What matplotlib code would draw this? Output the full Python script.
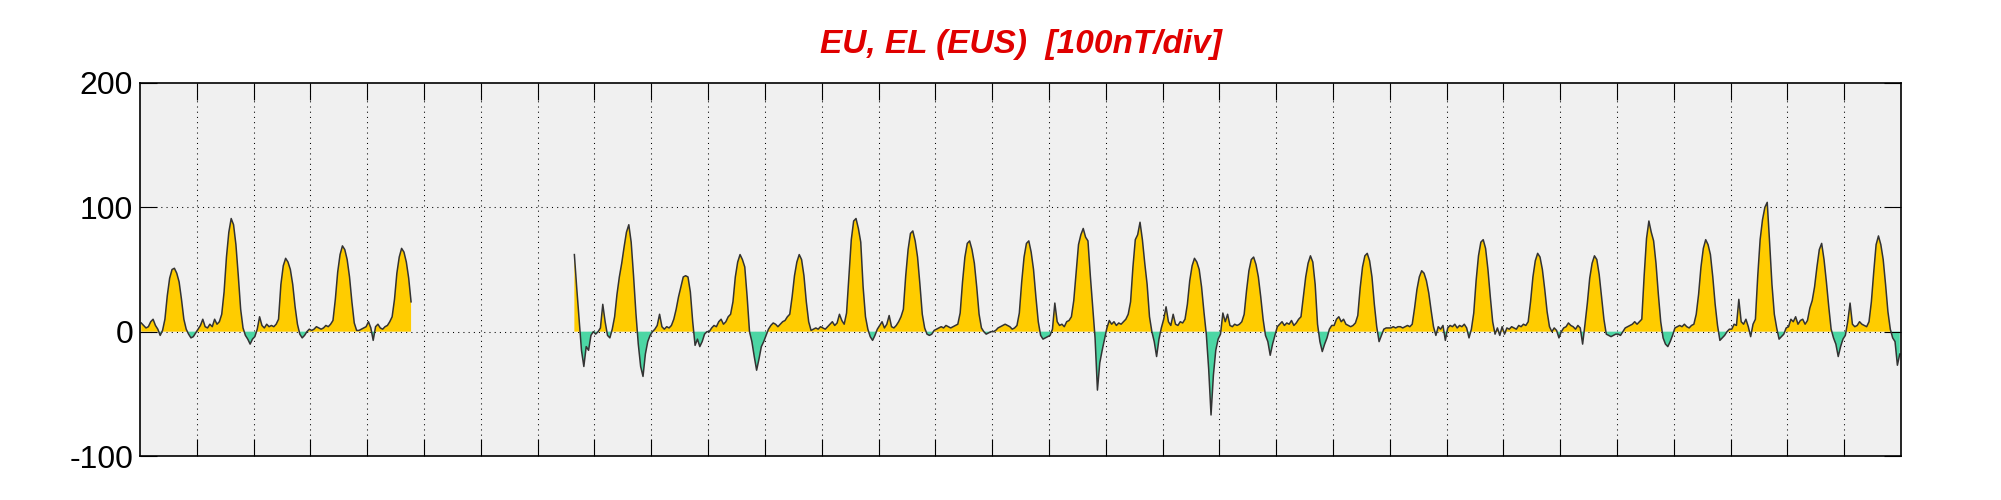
import numpy as np
import matplotlib
matplotlib.use("Agg")
import matplotlib.pyplot as plt

plt.rcParams['font.family'] = ['Liberation Sans', 'DejaVu Sans']
plt.rcParams['axes.unicode_minus'] = False

# EU/EL index, hourly values (nT), one row per day; None = no data
N = None
eu_el = [
    7, 5, 3, 4, 8, 10, 5, 2, -3, 1, 10, 29, 43, 50, 51, 47, 40, 26, 10, 2, -2, -5, -4, -1,
    2, 5, 10, 4, 3, 6, 4, 10, 6, 8, 14, 32, 60, 80, 91, 86, 70, 45, 18, 3, -3, -6, -10, -6,
    -4, 2, 12, 5, 3, 6, 4, 5, 4, 6, 10, 38, 53, 59, 56, 50, 38, 20, 6, -2, -5, -3, 0, 2,
    1, 2, 4, 3, 2, 3, 5, 4, 6, 9, 26, 48, 62, 69, 66, 58, 44, 24, 7, 1, 1, 2, 3, 4,
    8, 3, -7, 4, 6, 3, 2, 4, 5, 8, 12, 26, 47, 60, 67, 64, 56, 43, 24, N, N, N, N, N,
    N, N, N, N, N, N, N, N, N, N, N, N, N, N, N, N, N, N, N, N, N, N, N, N,
    N, N, N, N, N, N, N, N, N, N, N, N, N, N, N, N, N, N, N, N, N, N, N, N,
    N, N, N, N, N, N, N, N, N, N, N, N, N, N, N, 62, 35, 10, -15, -28, -12, -15, -3, 0,
    -2, 0, 3, 22, 8, -3, -5, 2, 12, 30, 44, 55, 68, 80, 86, 72, 45, 15, -10, -28, -36, -18, -8, -3,
    0, 2, 5, 14, 4, 2, 4, 3, 5, 10, 18, 28, 36, 44, 45, 44, 32, 8, -11, -6, -12, -8, -2, 0,
    0, 3, 5, 4, 8, 10, 6, 8, 12, 14, 24, 44, 56, 62, 58, 52, 28, 0, -8, -20, -31, -22, -12, -8,
    -3, 2, 5, 7, 6, 4, 6, 8, 9, 12, 14, 28, 45, 56, 62, 58, 45, 24, 8, 1, 2, 3, 2, 4,
    3, 2, 4, 6, 8, 5, 7, 14, 9, 6, 15, 45, 74, 89, 91, 83, 72, 36, 12, 2, -4, -7, -3, 2,
    5, 8, 3, 6, 13, 4, 3, 5, 8, 12, 18, 45, 66, 79, 81, 73, 60, 38, 14, 3, -2, -3, -2, 1,
    2, 3, 4, 3, 5, 4, 3, 4, 5, 6, 15, 40, 60, 71, 73, 66, 55, 36, 14, 3, 0, -2, -1, 0,
    0, 1, 3, 4, 5, 6, 5, 4, 2, 3, 5, 15, 40, 60, 71, 73, 64, 50, 28, 8, -3, -6, -5, -4,
    -3, 2, 23, 8, 5, 6, 4, 8, 9, 12, 25, 48, 70, 78, 83, 76, 73, 45, 20, -5, -47, -25, -15, -6,
    3, 9, 6, 8, 5, 7, 6, 8, 10, 14, 24, 52, 74, 78, 88, 74, 55, 38, 12, 0, -8, -20, -6, 3,
    10, 20, 8, 5, 14, 6, 5, 8, 7, 10, 22, 41, 53, 59, 56, 50, 36, 16, -2, -30, -67, -35, -15, -6,
    -2, 15, 8, 14, 5, 4, 6, 5, 6, 8, 14, 33, 49, 58, 60, 54, 44, 28, 10, -3, -8, -19, -10, -3,
    4, 6, 8, 5, 7, 6, 9, 5, 7, 10, 12, 28, 44, 55, 61, 56, 38, 6, -8, -16, -10, -5, 2, 5,
    5, 10, 12, 8, 10, 6, 5, 4, 5, 7, 13, 35, 52, 61, 63, 57, 44, 22, 4, -8, -3, 2, 3, 3,
    3, 4, 3, 4, 4, 3, 4, 5, 4, 6, 19, 34, 44, 49, 47, 41, 31, 17, 4, -3, 4, 2, 5, -7,
    3, 5, 4, 6, 3, 5, 4, 6, 3, -5, 2, 15, 41, 61, 72, 74, 67, 50, 28, 8, -2, 3, -3, 4,
    -2, 3, 2, 4, 3, 2, 5, 4, 6, 5, 8, 24, 44, 57, 63, 60, 50, 34, 16, 4, 0, 3, 1, -5,
    0, 3, 4, 7, 5, 4, 2, 5, 3, -10, 6, 23, 43, 55, 61, 58, 46, 28, 10, -2, -3, -4, -3, -2,
    -2, -3, 0, 3, 4, 5, 6, 8, 6, 8, 10, 45, 75, 89, 80, 73, 55, 30, 8, -5, -10, -12, -8, -3,
    3, 4, 5, 4, 6, 4, 3, 5, 6, 14, 30, 52, 67, 74, 70, 62, 44, 22, 5, -7, -5, -3, 0, 2,
    2, 6, 5, 26, 8, 6, 10, 4, -4, 6, 10, 45, 74, 90, 100, 104, 72, 38, 14, 3, -6, -4, -2, 3,
    4, 10, 8, 12, 6, 9, 10, 6, 9, 19, 25, 36, 52, 66, 71, 58, 40, 20, 2, -5, -10, -20, -12, -6,
    -3, 8, 23, 6, 4, 5, 8, 6, 5, 4, 8, 24, 48, 70, 77, 70, 58, 38, 16, 2, -5, -8, -27, -18,
]
n_days = 31
y_ticks = [-100, 0, 100, 200]
title = "EU, EL (EUS)  [100nT/div]"

y = np.array([np.nan if v is None else v for v in eu_el], dtype=float)
x = (np.arange(len(y)) + 0.5) / 24.0

fig = plt.figure(figsize=(20.01, 5.0), dpi=100)
ax = fig.add_axes([0.07, 0.088, 0.88, 0.746])
ax.set_facecolor("#f0f0f0")

ax.fill_between(x, 0, y, where=y >= 0, interpolate=True, color="#ffcc00", lw=0)
ax.fill_between(x, 0, y, where=y <= 0, interpolate=True, color="#4cd6a4", lw=0)
ax.plot(x, y, color="#333333", lw=1.1)

ax.set_xlim(0, n_days)
ax.set_ylim(-100, 200)
ax.set_xticks(range(1, n_days))
ax.set_yticks(y_ticks)
ax.set_xticklabels([])
ax.tick_params(axis="x", direction="in", length=12, width=0.8, top=True, bottom=True)
ax.tick_params(axis="y", direction="in", length=12, width=0.8, left=True, right=True,
               labelsize=23, pad=5)

# dotted grid: day boundaries, and 0 / 100 nT
for d in range(1, n_days):
    ax.axvline(d, color="black", lw=0.75, dashes=(1, 4), zorder=0.5)
for v in (0, 100):
    ax.axhline(v, color="black", lw=0.75, dashes=(1, 4), zorder=0.5)

for s in ax.spines.values():
    s.set_linewidth(1.2)

fig.text(0.5103, 0.894, title, color="#e00000", fontsize=24, fontweight="bold",
         fontstyle="italic", ha="center", va="baseline")

fig.savefig("out.png", dpi=100)
